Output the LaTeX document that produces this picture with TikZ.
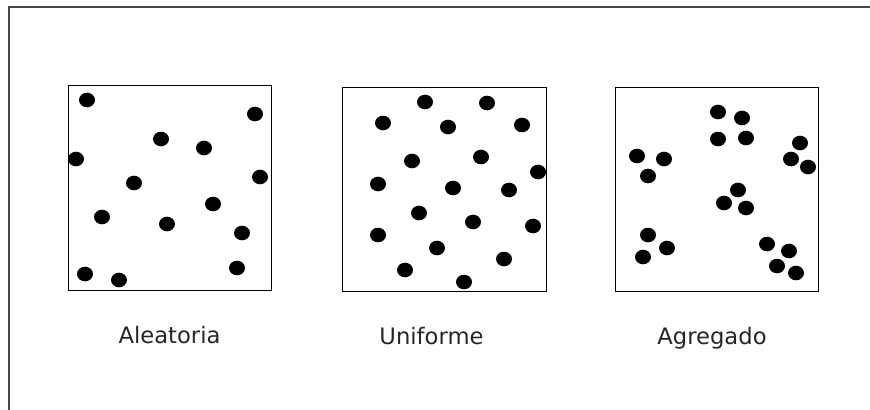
\documentclass[tikz,border=0pt]{standalone}
\usepackage{fontspec}
\setmainfont{DejaVu Sans}
\usetikzlibrary{positioning}
\tikzset{
  frame/.style ={draw=black!72,line width=1.5pt},
  plot/.style  ={draw,line width=0.9pt,minimum width=152.5pt,
                 minimum height=153.5pt,inner sep=0pt},
  lbl/.style   ={anchor=base,inner sep=0pt,text=black!85,
                 font=\fontsize{17}{20}\selectfont},
  dot/.style   ={fill=black},
}
\newcommand{\dotr}{ellipse [x radius=8, y radius=7.3]}

\begin{document}
\begin{tikzpicture}[x=0.75pt,y=-0.75pt]
\useasboundingbox (0,0) rectangle (870,410);
% outer frame, cut off at the right and bottom
\coordinate (F0) at (9,412);
\coordinate (F1) at (9,7.5);
\coordinate (F2) at (872,7.5);
\draw[frame] (F0) -- (F1) -- (F2);
% the three sample plots
\node[plot] (A) at (170,188) {};
\node[plot] (U) at (444.5,189.5) {};
\node[plot] (G) at (717,189.5) {};
\node[lbl] (labA) at (169.5,343) {Aleatoria};
\node[lbl] (labU) at (431.5,344) {Uniforme};
\node[lbl] (labG) at (712,344) {Agregado};
% random
\foreach \x/\y in {87/100,255/114,161/139,204/148,76/159,260/177,134/183,
                   213/204,102/217,167/224,242/233,237/268,85/274,119/280}
  \fill[dot] (\x,\y) \dotr;
% uniform
\foreach \x/\y in {425/102,487/103,383/123,448/127,522/125,412/161,481/157,
                   538/172,378/184,453/188,509/190,419/213,473/222,533/226,
                   378/235,437/248,504/259,405/270,464/282}
  \fill[dot] (\x,\y) \dotr;
% clumped
\foreach \x/\y in {718/112,742/118,718/139,746/138,637/156,664/159,648/176,
                   800/143,791/159,808/167,738/190,724/203,746/208,
                   648/235,667/248,643/257,767/244,789/251,777/266,796/273}
  \fill[dot] (\x,\y) \dotr;
\end{tikzpicture}
\end{document}
